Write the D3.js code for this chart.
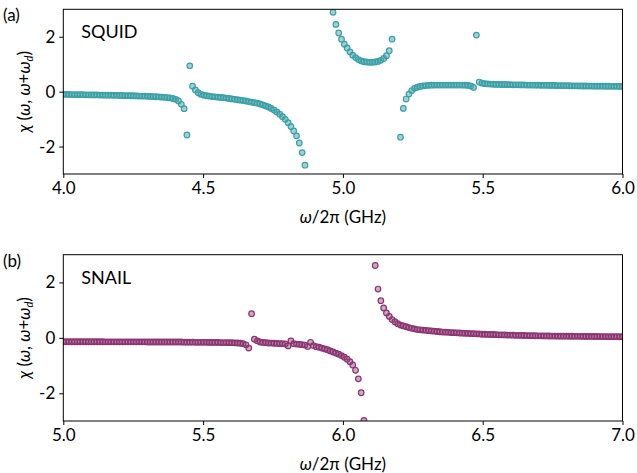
<!DOCTYPE html>
<html>
<head>
<meta charset="utf-8">
<script src="https://cdn.jsdelivr.net/npm/d3@7/dist/d3.min.js"></script>
<style>
  html, body { margin: 0; padding: 0; background: #fff; }
  svg { display: block; }
  text { font-family: Lato, "Open Sans", sans-serif; fill: #000; }
</style>
</head>
<body>
<div id="chart"></div>
<script>
// ---------------- data ----------------
const panelNames = ["SQUID", "SNAIL"];
const panelLetters = ["(a)", "(b)"];
const xDomainA = [4.0, 6.0];
const xDomainB = [5.0, 7.0];
const nPoints = 200;
const xTicksA = [4.0, 4.5, 5.0, 5.5, 6.0];
const xTicksB = [5.0, 5.5, 6.0, 6.5, 7.0];
const yTicks = [-2, 0, 2];
const yDomain = [-3, 3];

// chi values, SQUID (one per sample, 200 samples 4.0 -> 6.0 GHz)
const squidY = [
  -0.10,-0.10,-0.10,-0.105,-0.105,-0.11,-0.11,-0.11,-0.115,-0.115,
  -0.12,-0.12,-0.12,-0.125,-0.125,-0.13,-0.13,-0.13,-0.135,-0.135,
  -0.14,-0.14,-0.145,-0.145,-0.15,-0.15,-0.155,-0.16,-0.16,-0.165,
  -0.17,-0.175,-0.18,-0.185,-0.19,-0.2,-0.205,-0.215,-0.23,-0.25,
  -0.28,-0.34,-0.46,-0.62,-1.58,0.94,0.2,0.06,-0.04,-0.1,
  -0.13,-0.15,-0.165,-0.18,-0.19,-0.2,-0.21,-0.22,-0.235,-0.25,
  -0.265,-0.28,-0.295,-0.31,-0.325,-0.34,-0.36,-0.38,-0.4,-0.42,
  -0.45,-0.48,-0.52,-0.56,-0.61,-0.67,-0.74,-0.82,-0.91,-1.01,
  -1.13,-1.27,-1.43,-1.61,-1.87,-2.22,-2.68,-3.4,-4.6,-7.5,
  -20,12,6,4.5,3.8,3.3,2.89,2.45,2.14,1.91,
  1.73,1.59,1.45,1.33,1.24,1.17,1.12,1.09,1.08,1.07,
  1.07,1.08,1.1,1.14,1.21,1.31,1.49,1.91,4.2,-4.5,
  -1.66,-0.61,-0.27,-0.09,0.04,0.12,0.16,0.19,0.21,0.22,
  0.23,0.235,0.24,0.24,0.24,0.24,0.24,0.24,0.24,0.24,
  0.24,0.24,0.24,0.235,0.225,0.205,0.155,2.06,0.35,0.31,
  0.29,0.28,0.275,0.27,0.265,0.265,0.26,0.26,0.255,0.255,
  0.25,0.25,0.25,0.245,0.245,0.24,0.24,0.24,0.235,0.235,
  0.23,0.23,0.23,0.228,0.226,0.224,0.222,0.22,0.218,0.216,
  0.215,0.213,0.211,0.21,0.208,0.206,0.205,0.204,0.202,0.201,
  0.2,0.199,0.198,0.197,0.196,0.195,0.194,0.193,0.192,0.19
];

// chi values, SNAIL (200 samples 5.0 -> 7.0 GHz)
const snailY = [
  -0.14,-0.14,-0.14,-0.14,-0.14,-0.14,-0.14,-0.14,-0.14,-0.14,
  -0.14,-0.14,-0.14,-0.14,-0.14,-0.145,-0.145,-0.145,-0.145,-0.145,
  -0.145,-0.145,-0.145,-0.145,-0.145,-0.145,-0.145,-0.145,-0.145,-0.145,
  -0.15,-0.15,-0.15,-0.15,-0.15,-0.15,-0.15,-0.15,-0.15,-0.15,
  -0.15,-0.15,-0.15,-0.155,-0.155,-0.155,-0.155,-0.16,-0.16,-0.16,
  -0.16,-0.16,-0.165,-0.165,-0.165,-0.165,-0.17,-0.17,-0.17,-0.175,
  -0.175,-0.18,-0.185,-0.195,-0.21,-0.25,-0.37,0.87,-0.05,-0.11,
  -0.15,-0.165,-0.175,-0.185,-0.19,-0.195,-0.2,-0.205,-0.21,-0.22,
  -0.29,-0.11,-0.21,-0.225,-0.235,-0.245,-0.26,-0.31,-0.16,-0.28,
  -0.32,-0.34,-0.37,-0.4,-0.43,-0.47,-0.51,-0.55,-0.59,-0.64,
  -0.7,-0.77,-0.86,-0.98,-1.17,-1.48,-1.98,-2.98,-5,-14,
  4.5,2.61,1.76,1.34,1.08,0.9,0.77,0.66,0.58,0.51,
  0.46,0.43,0.4,0.37,0.345,0.325,0.3,0.29,0.28,0.27,
  0.26,0.25,0.24,0.23,0.22,0.21,0.205,0.2,0.19,0.185,
  0.18,0.175,0.17,0.165,0.16,0.155,0.15,0.145,0.14,0.13,
  0.13,0.125,0.12,0.12,0.115,0.11,0.11,0.105,0.1,0.1,
  0.095,0.09,0.09,0.088,0.085,0.083,0.08,0.078,0.076,0.074,
  0.072,0.07,0.068,0.066,0.065,0.064,0.062,0.061,0.06,0.059,
  0.058,0.057,0.056,0.055,0.054,0.053,0.052,0.051,0.05,0.049,
  0.048,0.047,0.046,0.045,0.044,0.043,0.042,0.041,0.04,0.04
];

// ---------------- layout / style ----------------
const W = 637, H = 473;
const panels = [
  { name: panelNames[0], letter: panelLetters[0], xd: xDomainA, xt: xTicksA, ys: squidY,
    top: 9.3, bottom: 174, stroke: "#3c9fa6", fill: "rgba(64,165,170,0.5)" },
  { name: panelNames[1], letter: panelLetters[1], xd: xDomainB, xt: xTicksB, ys: snailY,
    top: 254.7, bottom: 421, stroke: "#8a3572", fill: "rgba(150,60,120,0.45)" }
];
const left = 63.3, right = 622.5;

const svg = d3.select("#chart").append("svg").attr("width", W).attr("height", H);

panels.forEach((p, pi) => {
  const x = d3.scaleLinear().domain(p.xd).range([left, right]);
  const y = d3.scaleLinear().domain(yDomain).range([p.bottom, p.top]);
  const step = (p.xd[1] - p.xd[0]) / (nPoints - 1);
  const pts = p.ys.map((v, k) => ({ f: p.xd[0] + k * step, v }));

  const clipId = "clip" + pi;
  svg.append("clipPath").attr("id", clipId)
    .append("rect").attr("x", left).attr("y", p.top)
    .attr("width", right - left).attr("height", p.bottom - p.top);

  svg.append("g").attr("clip-path", `url(#${clipId})`)
    .selectAll("circle").data(pts).join("circle")
    .attr("cx", d => x(d.f)).attr("cy", d => y(d.v))
    .attr("r", 2.8)
    .attr("fill", p.fill).attr("stroke", p.stroke).attr("stroke-width", 1.2);

  // axes
  const xAxis = d3.axisBottom(x).tickValues(p.xt).tickFormat(d3.format(".1f"))
    .tickSizeInner(4).tickSizeOuter(0).tickPadding(4);
  const gx = svg.append("g").attr("transform", `translate(0,${p.bottom})`).call(xAxis);
  const yAxis = d3.axisLeft(y).tickValues(yTicks).tickFormat(d => d < 0 ? "-" + Math.abs(d) : d)
    .tickSizeInner(4).tickSizeOuter(0).tickPadding(4);
  const gy = svg.append("g").attr("transform", `translate(${left},0)`).call(yAxis);
  [gx, gy].forEach(g => {
    g.select(".domain").remove();
    g.selectAll("text").style("font-size", "17px").attr("fill", "#000");
    g.selectAll("line").attr("stroke", "#000").attr("stroke-width", 1);
  });

  // frame
  svg.append("rect").attr("x", left).attr("y", p.top)
    .attr("width", right - left).attr("height", p.bottom - p.top)
    .attr("fill", "none").attr("stroke", "#000").attr("stroke-width", 1);

  // panel name
  svg.append("text").attr("x", left + 18).attr("y", p.top + 29)
    .style("font-size", "18px").text(p.name);

  // panel letter
  svg.append("text").attr("x", 3).attr("y", p.top + 12)
    .style("font-size", "17px").text(p.letter);

  // x title
  const xt = svg.append("text").attr("x", (left + right) / 2).attr("y", p.bottom + 49)
    .attr("text-anchor", "middle").style("font-size", "17px");
  xt.append("tspan").style("font-style", "italic").text("ω");
  xt.append("tspan").text("/2π (GHz)");

  // y title
  const cy = (p.top + p.bottom) / 2;
  const yt = svg.append("text")
    .attr("transform", `translate(30,${cy}) rotate(-90)`)
    .attr("text-anchor", "middle").style("font-size", "17px");
  yt.append("tspan").style("font-style", "italic").text("χ");
  yt.append("tspan").text(" (");
  yt.append("tspan").style("font-style", "italic").text("ω");
  yt.append("tspan").text(", ");
  yt.append("tspan").style("font-style", "italic").text("ω");
  yt.append("tspan").text("+");
  yt.append("tspan").style("font-style", "italic").text("ω");
  yt.append("tspan").style("font-style", "italic").style("font-size", "11px").attr("dy", 3).text("d");
  yt.append("tspan").attr("dy", -3).text(")");
});
</script>
</body>
</html>
